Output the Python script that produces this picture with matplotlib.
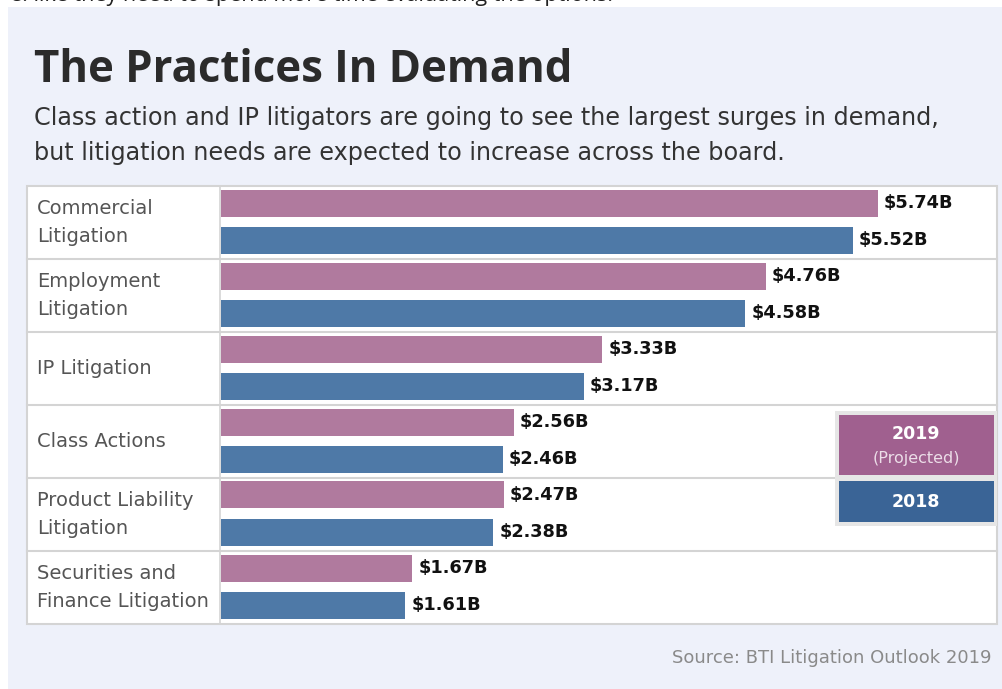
import matplotlib
matplotlib.use("Agg")
import matplotlib.pyplot as plt
from matplotlib.patches import Rectangle

categories = ["Commercial\nLitigation", "Employment\nLitigation", "IP Litigation",
              "Class Actions", "Product Liability\nLitigation", "Securities and\nFinance Litigation"]
values_2019 = [5.74, 4.76, 3.33, 2.56, 2.47, 1.67]
values_2018 = [5.52, 4.58, 3.17, 2.46, 2.38, 1.61]

W, H = 1002, 689
fig = plt.figure(figsize=(W / 100, H / 100), dpi=100)
fig.patch.set_facecolor("white")
TFONT = "Open Sans"
FONT = "DejaVu Sans"

def fx(x):
    return x / W

def fy(y):
    return 1 - y / H

def rect(x0, y0, x1, y1, **kw):
    fig.patches.append(Rectangle((fx(x0), fy(y1)), fx(x1) - fx(x0), fy(y0) - fy(y1),
                                 transform=fig.transFigure, **kw))

# panel background
rect(8, 7, W, H, facecolor="#eef1fa", edgecolor="none", zorder=0)
# cut-off text at the very top
fig.text(fx(10), fy(-4), "e: like they need to spend more time evaluating the options.",
         fontsize=15.5, family="Open Sans", color="#222222", va="center", ha="left")

# title + subtitle
fig.text(fx(34), fy(70), "The Practices In Demand", fontsize=31.5, fontweight="bold",
         family=TFONT, color="#2b2b2b", va="center", ha="left")
fig.text(fx(34), fy(118), "Class action and IP litigators are going to see the largest surges in demand,",
         fontsize=17.2, family=FONT, color="#333333", va="center", ha="left")
fig.text(fx(34), fy(153), "but litigation needs are expected to increase across the board.",
         fontsize=17.2, family=FONT, color="#333333", va="center", ha="left")

# table area
TX0, TX1, TY0, TY1 = 27, 997, 186, 624
LCOL = 220
rect(TX0, TY0, TX1, TY1, facecolor="white", edgecolor="#d4d4d4", linewidth=1.5, zorder=1)

n = len(categories)
row_h = (TY1 - TY0) / n
for i, cat in enumerate(categories):
    yc = TY0 + row_h * (i + 0.5)
    fig.text(fx(37), fy(yc), cat, fontsize=14, family=FONT, color="#555555",
             va="center", ha="left", linespacing=1.55, zorder=5)

ax = fig.add_axes([fx(LCOL), fy(TY1), fx(TX1) - fx(LCOL), fy(TY0) - fy(TY1)])
ax.set_facecolor("none")
ax.set_zorder(3)
px_per_unit = (878 - 221) / 5.74
ax.set_xlim(-1 / px_per_unit, (TX1 - LCOL - 1) / px_per_unit)
ax.set_ylim(n, 0)

c19, c18 = "#b07a9e", "#4e79a7"
off19 = (203 - TY0) / row_h
off18 = (240 - TY0) / row_h
bh = 27 / row_h
ys = list(range(n))
ax.barh([y + off19 for y in ys], values_2019, height=bh, color=c19, edgecolor="none")
ax.barh([y + off18 for y in ys], values_2018, height=bh, color=c18, edgecolor="none")
for y, v in zip(ys, values_2019):
    ax.text(v + 6 / px_per_unit, y + off19, f"${v:.2f}B", fontsize=12.8, fontweight="bold",
            family=FONT, color="#111111", va="center", ha="left")
for y, v in zip(ys, values_2018):
    ax.text(v + 6 / px_per_unit, y + off18, f"${v:.2f}B", fontsize=12.8, fontweight="bold",
            family=FONT, color="#111111", va="center", ha="left")
ax.axis("off")

# row separators and column line
for i in range(1, n):
    y = TY0 + row_h * i
    fig.add_artist(plt.Line2D([fx(TX0), fx(TX1)], [fy(y), fy(y)], transform=fig.transFigure,
                              color="#d4d4d4", linewidth=1.5, zorder=4))
fig.add_artist(plt.Line2D([fx(LCOL), fx(LCOL)], [fy(TY0), fy(TY1)], transform=fig.transFigure,
                          color="#d4d4d4", linewidth=1.2, zorder=4))

# legend
rect(835, 411, 997, 526, facecolor="#e6e6e6", edgecolor="none", zorder=6)
rect(839, 415, 994, 475, facecolor="#a0608f", edgecolor="none", zorder=7)
rect(839, 481, 994, 522, facecolor="#3a6496", edgecolor="none", zorder=7)
fig.text(fx(916), fy(434), "2019", fontsize=12.5, fontweight="bold", family=FONT,
         color="white", ha="center", va="center", zorder=8)
fig.text(fx(916), fy(459), "(Projected)", fontsize=11.5, family=FONT,
         color="#ecdde8", ha="center", va="center", zorder=8)
fig.text(fx(916), fy(502), "2018", fontsize=12.5, fontweight="bold", family=FONT,
         color="white", ha="center", va="center", zorder=8)

# source
fig.text(fx(992), fy(658), "Source: BTI Litigation Outlook 2019", fontsize=13, family=FONT,
         color="#8a8a8a", ha="right", va="center")

fig.savefig("out.png", dpi=100, facecolor=fig.get_facecolor())
